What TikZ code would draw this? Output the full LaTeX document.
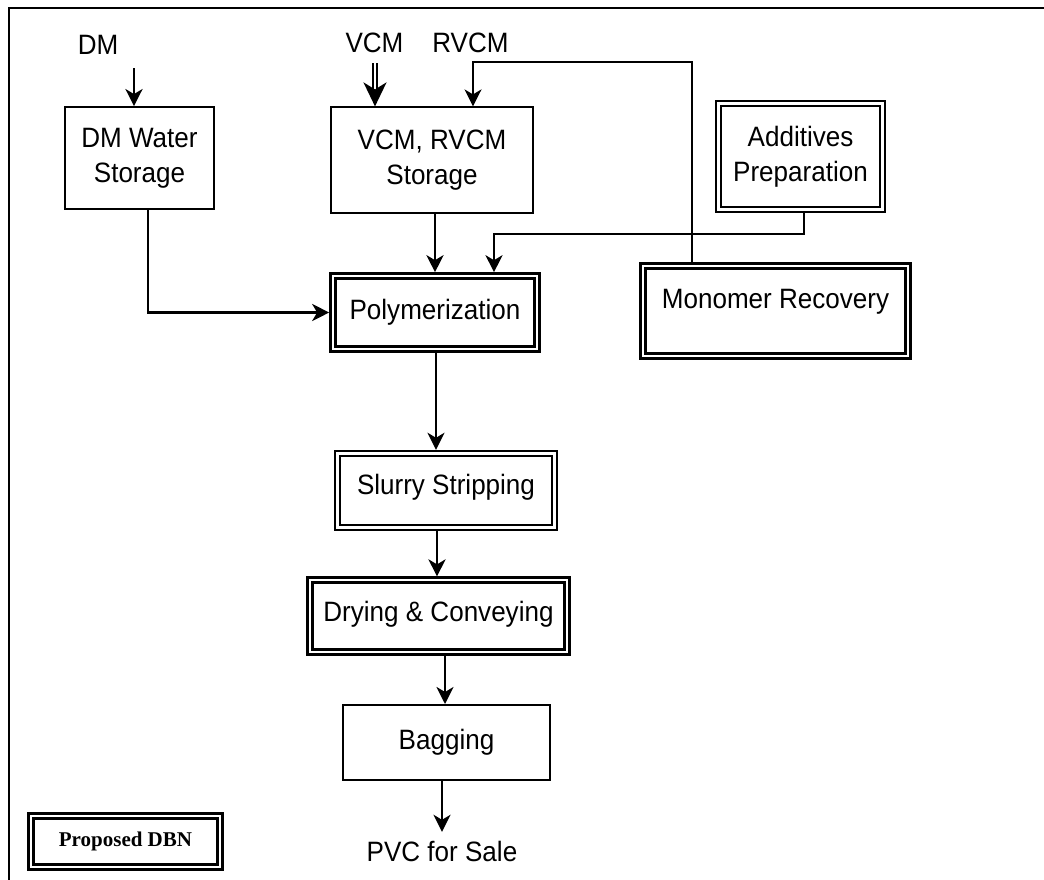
\documentclass[tikz,border=0pt]{standalone}
\usepackage{fontspec}
\setmainfont{Liberation Sans}[FakeStretch=0.93]
\newfontfamily\dbnfont{Liberation Serif}
\usepackage{tikz}
\usetikzlibrary{positioning,arrows.meta}

\begin{document}
\begin{tikzpicture}[x=1pt,y=-1pt,>={Stealth[length=17pt,width=17pt,inset=5pt]},
font=\fontsize{28}{35}\selectfont,
box/.style={draw,line width=1.8pt,align=center,inner sep=0pt},
dbox/.style={draw,line width=2.6pt,double,double distance=2.4pt,align=center,inner sep=0pt,outer sep=3.8pt},
arr/.style={->,line width=2.8pt},
thinarr/.style={->,line width=1.8pt},
dblarr/.style={line width=2pt,double,double distance=2.8pt,-{Stealth[length=24pt,width=23pt,inset=7pt]}}]
\useasboundingbox (0,0) rectangle (1044,879);
\draw[line width=1.8pt] (9,8) rectangle (1100,950);
% inputs
\node (dm) at (98,45) {DM};
\node (vcm) at (374.5,43) {VCM};
\node (rvcm) at (470.5,43) {RVCM};
% storage and side units
\node[box,minimum width=149pt,minimum height=102pt] (dmw) at (139.5,158) {DM Water\\Storage};
\node[box,line width=1.2pt,minimum width=202pt,minimum height=106pt] (vcms) at (432,160) {VCM, RVCM\\Storage};
\node[dbox,minimum width=164pt,minimum height=106pt] (add) at (800.5,156.5) {Additives\\Preparation};
\node[dbox,minimum width=265pt,minimum height=90pt,text height=20pt,text depth=26pt] (mon) at (775.5,311) {Monomer Recovery};
% main line
\node[dbox,minimum width=204pt,minimum height=73pt] (poly) at (435,312.5) {Polymerization};
\node[dbox,minimum width=217pt,minimum height=74pt,text height=20pt,text depth=12pt,below=97pt of poly,xshift=11pt] (slurry) {Slurry Stripping};
\node[dbox,minimum width=257pt,minimum height=72pt,text height=20pt,text depth=10pt,below=45pt of slurry,xshift=-7.5pt] (dry) {Drying \& Conveying};
\node[box,minimum width=207pt,minimum height=75pt,below=48pt of dry,xshift=8pt] (bag) {Bagging};
\node[below=57pt of bag,xshift=-4.5pt] (pvc) {PVC for Sale};
\node[dbox,minimum width=189pt,minimum height=51pt,font=\dbnfont\bfseries\fontsize{21}{24}\selectfont] (leg) at (125.5,841.5) {Proposed DBN};
% connectors
\coordinate (dmin) at (134,68);
\coordinate (vcmin) at (375,63);
\coordinate (rvtop) at (692,62);
\draw[arr] (dmin) -- (dmin |- dmw.north);
\draw[dblarr] (vcmin) -- (vcmin |- vcms.north);
\draw[thinarr] (mon.north -| rvtop) -- (rvtop) -| ([xshift=41pt]vcms.north);
\draw[thinarr] ([xshift=3.5pt]add.south) -- ++(0,21) -| ([xshift=59pt]poly.north);
\draw[arr] (poly.north |- vcms.south) -- (poly.north);
\draw[arr] ([xshift=8.5pt]dmw.south) |- (poly.west);
\draw[arr] ([xshift=1pt]poly.south) -- ([xshift=1pt]poly.south |- slurry.north);
\draw[arr] ([xshift=-9pt]slurry.south) -- ([xshift=-9pt]slurry.south |- dry.north);
\draw[arr] ([xshift=6.5pt]dry.south) -- ([xshift=6.5pt]dry.south |- bag.north);
\draw[arr] (bag.south -| pvc.north) -- ([yshift=6pt]pvc.north);
\end{tikzpicture}
\end{document}
